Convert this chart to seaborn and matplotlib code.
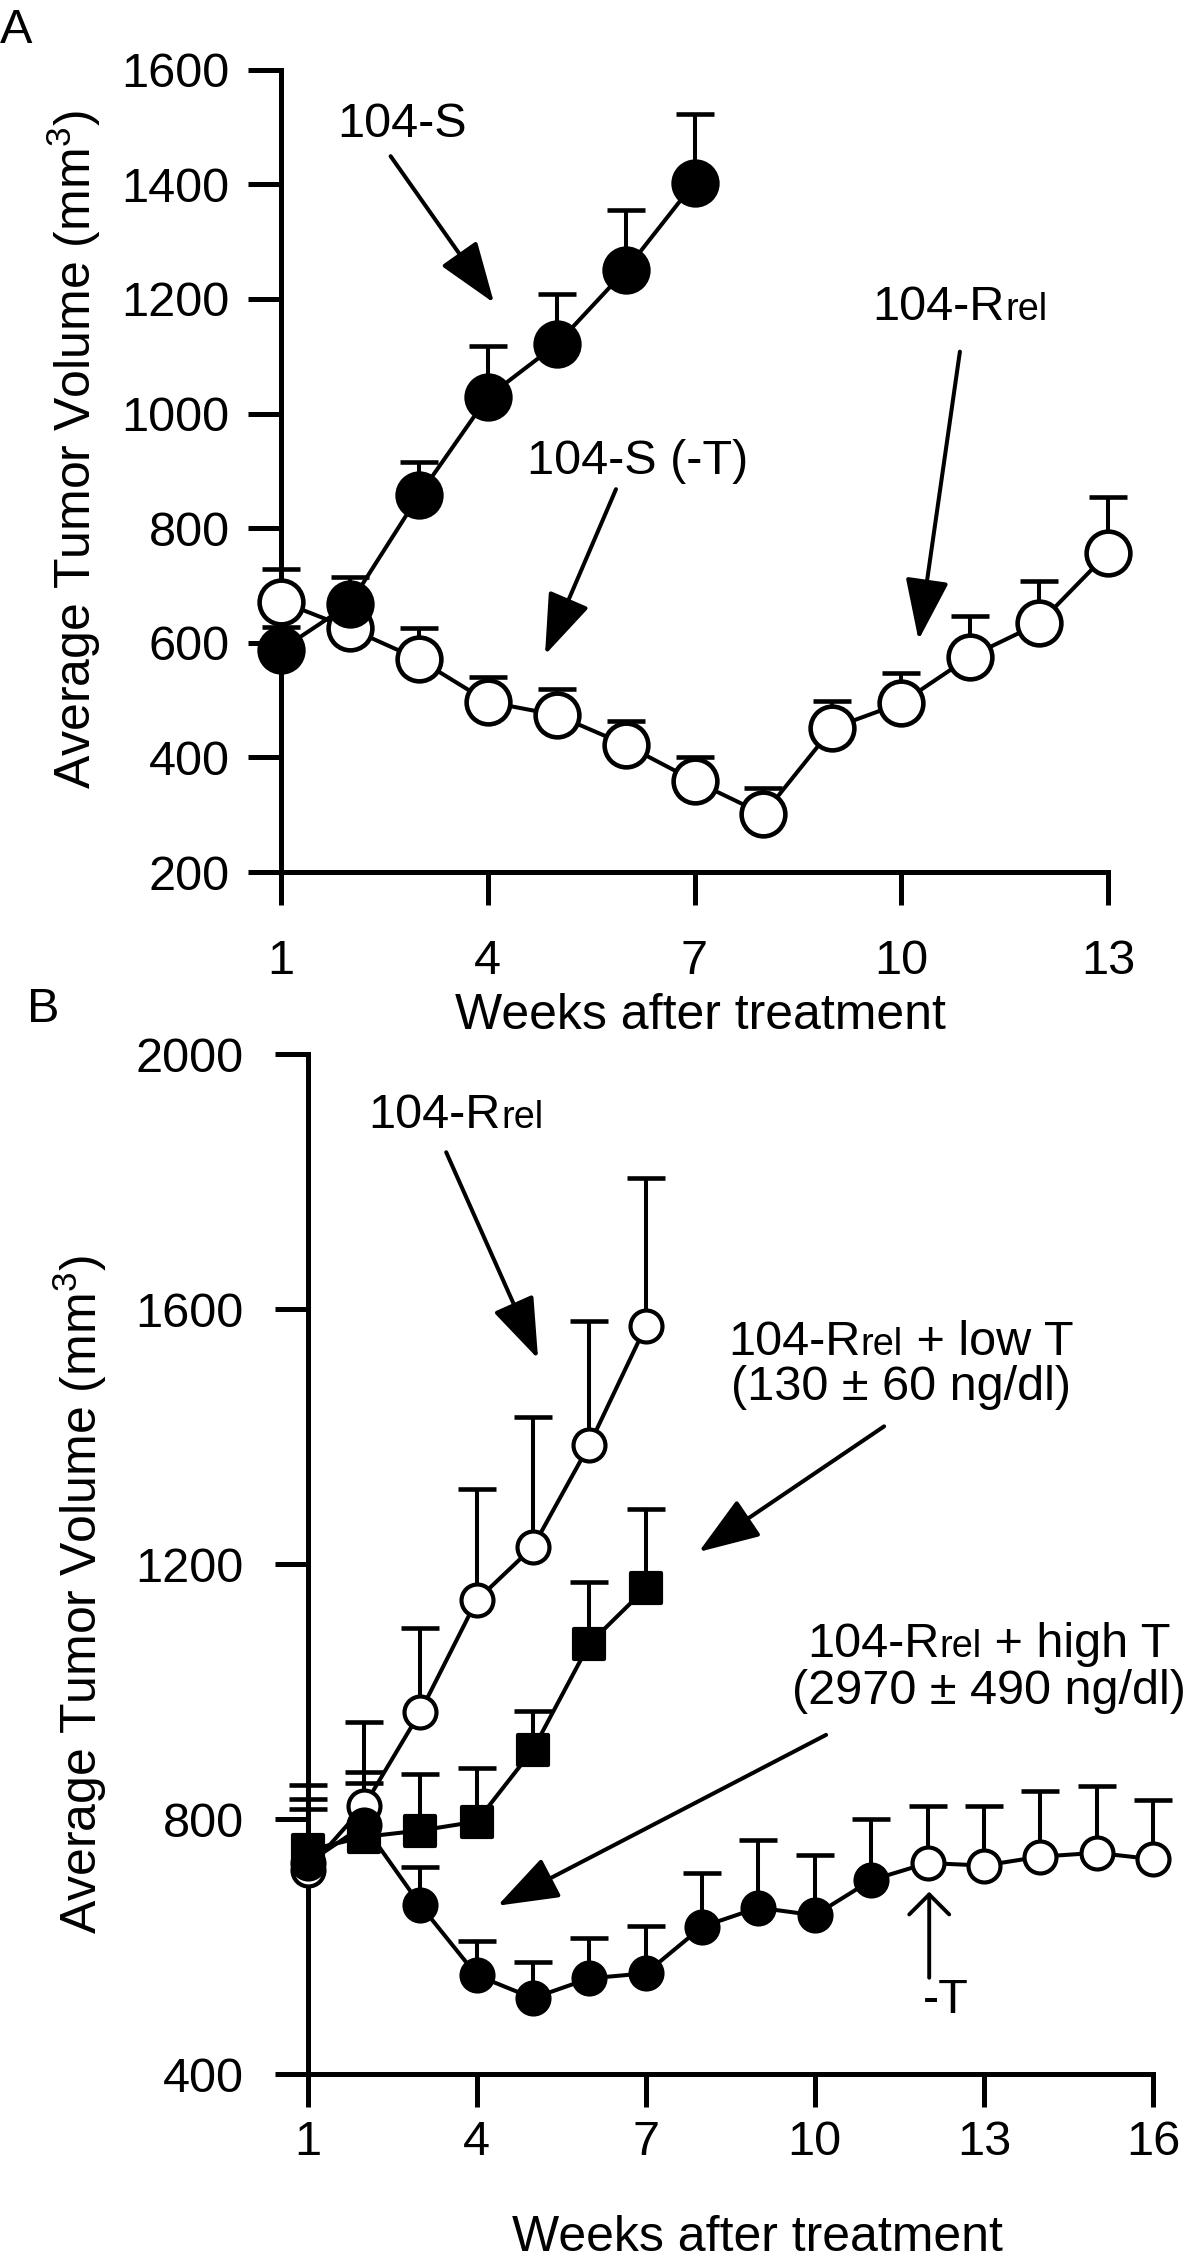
import numpy as np
import pandas as pd
import matplotlib.pyplot as plt
import seaborn as sns
from matplotlib.offsetbox import TextArea, HPacker, VPacker, AnnotationBbox

# -----------------------------
# Data
# -----------------------------
# Panel A: 104-S (filled) and 104-S (-T) -> 104-Rrel (open)
weeks_s = [1, 2, 3, 4, 5, 6, 7]
vol_s = [588, 668, 857, 1029, 1121, 1250, 1403]
sem_s = [40, 47, 59, 89, 87, 105, 119]

weeks_nt = list(range(1, 14))
vol_nt = [672, 625, 571, 497, 474, 422, 359, 301, 451, 495, 576, 634, 757]
sem_nt = [57, 40, 55, 44, 46, 42, 42, 46, 48, 52, 71, 74, 98]

# Panel B
weeks_rel = [1, 2, 3, 4, 5, 6, 7]
vol_rel = [720, 820, 968, 1143, 1227, 1387, 1573]
sem_rel = [133, 132, 131, 175, 203, 195, 233]

weeks_low = [1, 2, 3, 4, 5, 6, 7]
vol_low = [751, 772, 782, 796, 909, 1075, 1162]
sem_low = [80, 84, 88, 84, 61, 97, 124]

weeks_high = list(range(1, 17))
vol_high = [731, 790, 665, 555, 519, 550, 558, 631, 661, 649, 704, 731, 727, 741, 747, 737]
sem_high = [84, 83, 60, 53, 57, 64, 74, 84, 106, 94, 96, 90, 94, 103, 105, 93]
last_week_on_t = 11

xticks_a = [1, 4, 7, 10, 13]
yticks_a = [200, 400, 600, 800, 1000, 1200, 1400, 1600]
xticks_b = [1, 4, 7, 10, 13, 16]
yticks_b = [400, 800, 1200, 1600, 2000]

# -----------------------------
# Style
# -----------------------------
sns.set_theme(style="ticks")
plt.rcParams["font.family"] = ["Liberation Sans", "DejaVu Sans"]
plt.rcParams["mathtext.fontset"] = "custom"
plt.rcParams["mathtext.rm"] = "Liberation Sans"
plt.rcParams["mathtext.it"] = "Liberation Sans:italic"
plt.rcParams["mathtext.bf"] = "Liberation Sans:bold"
for key in ["text.color", "axes.labelcolor", "xtick.color", "ytick.color",
            "xtick.labelcolor", "ytick.labelcolor", "axes.edgecolor"]:
    plt.rcParams[key] = "black"

FS = 35
LFS = 36
AX_LW = 3.6
LINE_LW = 2.9
ARROW = "-|>,head_length=1.9,head_width=0.68"

fig = plt.figure(figsize=(12, 22.61), dpi=100)
ax_a = fig.add_axes([0.2342, 0.6143, 0.6892, 0.3549])
ax_b = fig.add_axes([0.2563, 0.0827, 0.7045, 0.4511])


def style_axes(ax, xlim, ylim, xticks, yticks, xpad, ypad):
    ax.set_xlim(*xlim)
    ax.set_ylim(*ylim)
    ax.set_xticks(xticks)
    ax.set_yticks(yticks)
    sns.despine(ax=ax)
    for s in ["left", "bottom"]:
        ax.spines[s].set_linewidth(AX_LW)
        ax.spines[s].set_color("black")
    ax.tick_params(direction="out", length=24, width=AX_LW, color="black",
                   labelsize=FS, labelcolor="black")
    ax.tick_params(axis="x", pad=xpad)
    ax.tick_params(axis="y", pad=ypad)
    ax.grid(False)


def series(ax, x, y, err, marker, face, size, mew, z, line=True):
    y = np.asarray(y, dtype=float)
    err = np.asarray(err, dtype=float)
    _, caps, _ = ax.errorbar(x, y, yerr=[np.zeros_like(err), err], fmt="none",
                             ecolor="black", elinewidth=LINE_LW, capsize=14,
                             capthick=LINE_LW + 0.4, zorder=2.9, clip_on=False)
    # keep only the upper caps (one-sided SEM bars)
    for c in caps:
        if np.allclose(c.get_ydata(), y):
            c.set_visible(False)
    if line:
        sns.lineplot(x=x, y=y, ax=ax, color="black", lw=LINE_LW, sort=False,
                     errorbar=None, zorder=3, clip_on=False)
    sns.scatterplot(x=x, y=y, ax=ax, marker=marker, s=size ** 2, facecolor=face,
                    edgecolor="black", linewidth=mew, zorder=z, clip_on=False,
                    legend=False)


def rich_label(ax, lines, xy, fs=FS, sep=0):
    rows = []
    for pieces in lines:
        areas = [TextArea(t, textprops=dict(fontsize=fs * k, color="black"))
                 for t, k in pieces]
        rows.append(HPacker(children=areas, align="baseline", pad=0, sep=0))
    box = rows[0] if len(rows) == 1 else VPacker(children=rows, align="center", pad=0, sep=sep)
    ab = AnnotationBbox(box, xy, xycoords="data", frameon=False,
                        box_alignment=(0.5, 0.5), pad=0, annotation_clip=False)
    ax.add_artist(ab)


def arrow(ax, tail, head, style=ARROW, lw=LINE_LW):
    ax.annotate("", xy=head, xytext=tail, xycoords="data", textcoords="data",
                arrowprops=dict(arrowstyle=style, mutation_scale=20, lw=lw,
                                color="black", shrinkA=0, shrinkB=0),
                annotation_clip=False)


# -----------------------------
# Panel A
# -----------------------------
style_axes(ax_a, (1, 13), (200, 1600), xticks_a, yticks_a, xpad=24, ypad=13)
series(ax_a, weeks_nt, vol_nt, sem_nt, "o", "white", 31.5, 3.3, 4)
series(ax_a, weeks_s, vol_s, sem_s, "o", "black", 31.5, 3.3, 5)

ax_a.set_xlabel("Weeks after treatment", fontsize=LFS, color="black")
ax_a.set_ylabel(r"Average Tumor Volume (mm$^\mathregular{3}$)", fontsize=LFS, color="black")
ax_a.xaxis.set_label_coords(0.507, -0.151)
ax_a.yaxis.set_label_coords(-0.215, 0.526)

ax_a.text(2.756, 1505, "104-S", fontsize=FS, ha="center", va="center", color="black")
arrow(ax_a, (2.59, 1449), (4.09, 1193))
ax_a.text(6.17, 916, "104-S (-T)", fontsize=FS, ha="center", va="center", color="black")
arrow(ax_a, (5.86, 868), (4.83, 579))
rich_label(ax_a, [[("104-R", 1.0), ("rel", 0.78)]], (10.85, 1185))
arrow(ax_a, (10.85, 1108), (10.25, 605))

# -----------------------------
# Panel B
# -----------------------------
style_axes(ax_b, (1, 16), (400, 2000), xticks_b, yticks_b, xpad=9, ypad=22)
series(ax_b, weeks_rel, vol_rel, sem_rel, "o", "white", 23, 3.0, 4)
series(ax_b, weeks_low, vol_low, sem_low, "s", "black", 21, 3.0, 5)

wh = np.asarray(weeks_high)
vh = np.asarray(vol_high)
eh = np.asarray(sem_high)
on_t = wh <= last_week_on_t
sns.lineplot(x=wh, y=vh, ax=ax_b, color="black", lw=LINE_LW, sort=False,
             errorbar=None, zorder=3, clip_on=False)
series(ax_b, wh[~on_t], vh[~on_t], eh[~on_t], "o", "white", 23, 3.0, 4, line=False)
series(ax_b, wh[on_t], vh[on_t], eh[on_t], "o", "black", 23, 3.0, 6, line=False)

ax_b.set_xlabel("Weeks after treatment", fontsize=LFS, color="black")
ax_b.set_ylabel(r"Average Tumor Volume (mm$^\mathregular{3}$)", fontsize=LFS, color="black")
ax_b.xaxis.set_label_coords(0.532, -0.138)
ax_b.yaxis.set_label_coords(-0.235, 0.47)

rich_label(ax_b, [[("104-R", 1.0), ("rel", 0.78)]], (3.63, 1904))
arrow(ax_b, (3.46, 1846), (5.09, 1522))
rich_label(ax_b, [[("104-R", 1.0), ("rel", 0.78), (" + low T", 1.0)],
                  [("(130 \u00b1 60 ng/dl)", 1.0)]], (11.53, 1512))
arrow(ax_b, (11.23, 1416), (7.94, 1219))
rich_label(ax_b, [[("104-R", 1.0), ("rel", 0.78), (" + high T", 1.0)],
                  [("(2970 \u00b1 490 ng/dl)", 1.0)]], (13.09, 1037), sep=2)
arrow(ax_b, (10.2, 932), (4.37, 664))
arrow(ax_b, (12.03, 551), (12.03, 686), style="->,head_length=0.72,head_width=0.72", lw=2.8)
ax_b.text(12.33, 516, "-T", fontsize=FS, ha="center", va="center", color="black")

# Panel letters
fig.text(0.0, 1 - 8 / 2261, "A", fontsize=FS, ha="left", va="top", color="black")
fig.text(27 / 1200, 1 - 987 / 2261, "B", fontsize=FS, ha="left", va="top", color="black")

fig.savefig("out.png", dpi=100, facecolor="white")
